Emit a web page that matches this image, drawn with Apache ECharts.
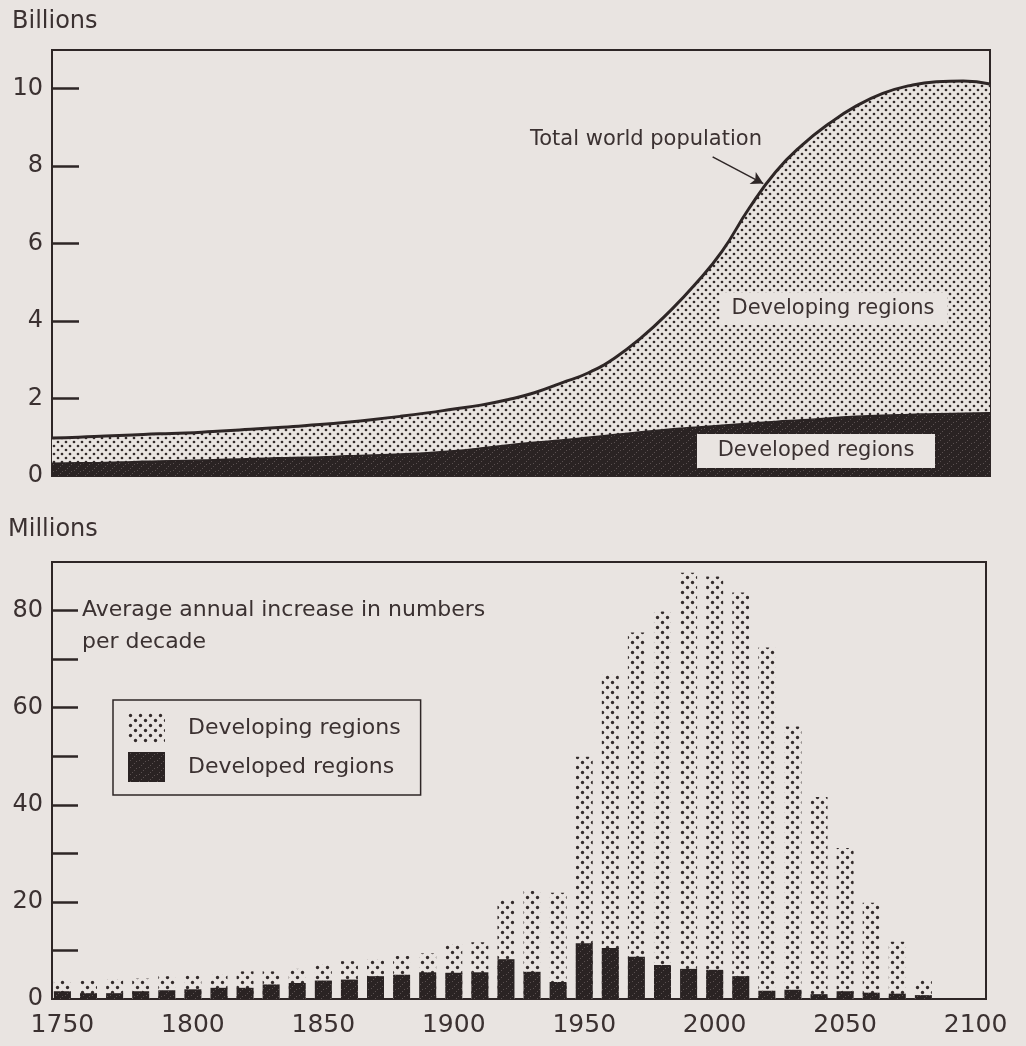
<!DOCTYPE html>
<html>
<head>
<meta charset="utf-8">
<script src="https://cdn.jsdelivr.net/npm/echarts@6/dist/echarts.min.js"></script>
<style>
html,body{margin:0;padding:0;background:#e9e4e1;}
#c{width:1026px;height:1046px;}
</style>
</head>
<body>
<div id="c"></div>
<script>
// ---------- DATA ----------
// Top chart: population in billions, by year
const popYears = [1750,1760,1770,1780,1790,1800,1810,1820,1830,1840,1850,1860,1870,1880,1890,1900,1910,1920,1930,1940,1950,1960,1970,1980,1990,2000,2010,2020,2030,2040,2050,2060,2070,2080,2090,2100];
const totalPop = [0.98,1.0,1.03,1.06,1.09,1.11,1.15,1.19,1.23,1.28,1.33,1.39,1.46,1.54,1.63,1.73,1.83,1.97,2.15,2.4,2.66,3.05,3.58,4.22,4.95,5.8,6.9,7.85,8.55,9.1,9.55,9.88,10.08,10.18,10.2,10.12];
const developedPop = [0.33,0.34,0.35,0.37,0.39,0.40,0.42,0.44,0.46,0.48,0.49,0.52,0.54,0.57,0.60,0.65,0.72,0.80,0.87,0.93,1.0,1.07,1.14,1.21,1.26,1.31,1.36,1.41,1.45,1.50,1.54,1.57,1.59,1.61,1.62,1.63];

// Bottom chart: average annual increase per decade, millions
const decades = [1750,1760,1770,1780,1790,1800,1810,1820,1830,1840,1850,1860,1870,1880,1890,1900,1910,1920,1930,1940,1950,1960,1970,1980,1990,2000,2010,2020,2030,2040,2050,2060,2070,2080];
const totalIncrease = [3.9,3.8,4.1,4.2,4.7,4.9,5.0,5.7,5.7,6.2,7.1,7.8,8.2,8.9,9.4,11.3,11.7,20.4,22.3,21.9,49.9,66.8,75.5,79.8,87.8,87.0,83.7,72.4,56.1,41.6,31.1,19.8,11.8,3.9];
const developedIncrease = [1.6,1.2,1.2,1.6,1.8,2.0,2.3,2.3,3.0,3.3,3.8,4.0,4.7,5.0,5.5,5.4,5.5,8.2,5.6,3.5,11.5,10.5,8.7,7.0,6.2,6.0,4.7,1.7,1.9,1.0,1.6,1.3,1.1,0.8];

const xLabels = [1750,1800,1850,1900,1950,2000,2050,2100];
const topYLabels = [0,2,4,6,8,10];
const bottomYLabels = [0,20,40,60,80];

// ---------- STYLES ----------
const BG = '#e9e4e1';
const INK = '#2e2626';
const TXT = '#3b3131';
const FONT = '"DejaVu Sans", sans-serif';

function dotPattern(size, dots, r, bg, fg) {
  const c = document.createElement('canvas');
  c.width = size; c.height = size;
  const g = c.getContext('2d');
  g.fillStyle = bg; g.fillRect(0, 0, size, size);
  g.fillStyle = fg;
  dots.forEach(d => { g.beginPath(); g.arc(d[0], d[1], r, 0, Math.PI * 2); g.fill(); });
  return c;
}
function darkPattern() {
  const c = document.createElement('canvas');
  c.width = 9; c.height = 7;
  const g = c.getContext('2d');
  g.fillStyle = '#2a2323'; g.fillRect(0, 0, 9, 7);
  g.fillStyle = '#5a5050';
  [[2,1],[6,4],[4,6],[8,2]].forEach(p => g.fillRect(p[0], p[1], 1, 1));
  return c;
}
const areaDots = { image: dotPattern(8, [[2,2],[6,6]], 1.35, BG, '#332b2b'), repeat: 'repeat' };
const barDots = { image: dotPattern(10, [[2.5,2.5],[7.5,7.5]], 1.65, BG, '#332b2b'), repeat: 'repeat' };
const darkFill = { image: darkPattern(), repeat: 'repeat' };

const chart = echarts.init(document.getElementById('c'));

const option = {
  backgroundColor: BG,
  animation: false,
  textStyle: { fontFamily: FONT, color: TXT },
  grid: [
    { left: 52, right: 36, top: 50, bottom: 570, show: true, borderColor: INK, borderWidth: 2, backgroundColor: 'transparent' },
    { left: 52, right: 40, top: 562, bottom: 47, show: true, borderColor: INK, borderWidth: 2, backgroundColor: 'transparent' }
  ],
  xAxis: [
    { gridIndex: 0, type: 'value', min: 1750, max: 2100, show: false, splitLine: { show: false } },
    { gridIndex: 1, type: 'value', min: 1746, max: 2104,
      axisLine: { show: true, lineStyle: { color: INK, width: 2 } },
      axisTick: { show: false },
      splitLine: { show: false },
      axisLabel: { customValues: xLabels, formatter: v => String(v), fontSize: 25, color: TXT, margin: 14, fontFamily: FONT } }
  ],
  yAxis: [
    { gridIndex: 0, type: 'value', min: 0, max: 11, interval: 1,
      axisLine: { show: true, lineStyle: { color: INK, width: 2 } },
      axisTick: { show: true, inside: true, length: 27, lineStyle: { color: INK, width: 2.5 },
                  customValues: [2,4,6,8,10] },
      axisLabel: { customValues: topYLabels, formatter: v => String(v), fontSize: 24, color: TXT, margin: 9, fontFamily: FONT },
      splitLine: { show: false } },
    { gridIndex: 1, type: 'value', min: 0, max: 90, interval: 10,
      axisLine: { show: true, lineStyle: { color: INK, width: 2 } },
      axisTick: { show: true, inside: true, length: 26, lineStyle: { color: INK, width: 2.5 },
                  customValues: [10,20,30,40,50,60,70,80] },
      axisLabel: { customValues: bottomYLabels, formatter: v => String(v), fontSize: 24, color: TXT, margin: 9, fontFamily: FONT },
      splitLine: { show: false } }
  ],
  legend: {
    data: ['Developing regions', 'Developed regions'],
    orient: 'vertical',
    left: 113, top: 700,
    itemWidth: 37, itemHeight: 30, itemGap: 9,
    padding: [13, 20, 13, 15],
    borderColor: INK, borderWidth: 1.5,
    backgroundColor: BG,
    icon: 'rect',
    selectedMode: false,
    textStyle: { fontSize: 22, color: TXT, fontFamily: FONT, padding: [0, 0, 0, 18] }
  },
  series: [
    { name: 'Total world population', type: 'line', xAxisIndex: 0, yAxisIndex: 0,
      smooth: true, showSymbol: false, symbol: 'none',
      data: popYears.map((y, i) => [y, totalPop[i]]),
      lineStyle: { color: INK, width: 3 },
      itemStyle: { color: INK },
      areaStyle: { color: areaDots, opacity: 1 }, z: 2,
      markLine: {
        silent: true, symbol: ['none', 'arrow'], symbolSize: [10, 12],
        lineStyle: { color: INK, width: 1.5, type: 'solid' },
        label: { show: false },
        data: [[{ coord: [1996.5, 8.24] }, { coord: [2015.4, 7.55] }]]
      } },
    { name: 'Developed population', type: 'line', xAxisIndex: 0, yAxisIndex: 0,
      smooth: true, showSymbol: false, symbol: 'none',
      data: popYears.map((y, i) => [y, developedPop[i]]),
      lineStyle: { color: '#2a2323', width: 1.5 },
      itemStyle: { color: '#2a2323' },
      areaStyle: { color: darkFill, opacity: 1 }, z: 3 },
    { name: 'Developing regions', type: 'bar', xAxisIndex: 1, yAxisIndex: 1,
      barWidth: 17, barGap: '-100%',
      data: decades.map((y, i) => [y, totalIncrease[i]]),
      itemStyle: { color: barDots }, z: 2 },
    { name: 'Developed regions', type: 'bar', xAxisIndex: 1, yAxisIndex: 1,
      barWidth: 17, barGap: '-100%',
      data: decades.map((y, i) => [y, developedIncrease[i]]),
      itemStyle: { color: darkFill }, z: 3 }
  ],
  graphic: [
    { type: 'text', x: 12, y: 22, z: 100, style: { text: 'Billions', fontSize: 24, fill: TXT, fontFamily: FONT, verticalAlign: 'middle' } },
    { type: 'text', x: 8, y: 530, z: 100, style: { text: 'Millions', fontSize: 24, fill: TXT, fontFamily: FONT, verticalAlign: 'middle' } },
    { type: 'text', x: 530, y: 140, z: 100, style: { text: 'Total world population', fontSize: 21, fill: TXT, fontFamily: FONT, verticalAlign: 'middle' } },
    { type: 'rect', shape: { x: 720, y: 293, width: 227, height: 32 }, z: 100, style: { fill: BG } },
    { type: 'text', x: 833, y: 309, z: 101, style: { text: 'Developing regions', fontSize: 21, fill: TXT, fontFamily: FONT, align: 'center', verticalAlign: 'middle' } },
    { type: 'rect', shape: { x: 697, y: 434, width: 238, height: 34 }, z: 100, style: { fill: BG } },
    { type: 'text', x: 816, y: 451, z: 101, style: { text: 'Developed regions', fontSize: 21, fill: TXT, fontFamily: FONT, align: 'center', verticalAlign: 'middle' } },
    { type: 'text', x: 82, y: 610, z: 100, style: { text: 'Average annual increase in numbers', fontSize: 22, fill: TXT, fontFamily: FONT, verticalAlign: 'middle' } },
    { type: 'text', x: 82, y: 642, z: 100, style: { text: 'per decade', fontSize: 22, fill: TXT, fontFamily: FONT, verticalAlign: 'middle' } }
  ]
};
chart.setOption(option);
</script>
</body>
</html>
